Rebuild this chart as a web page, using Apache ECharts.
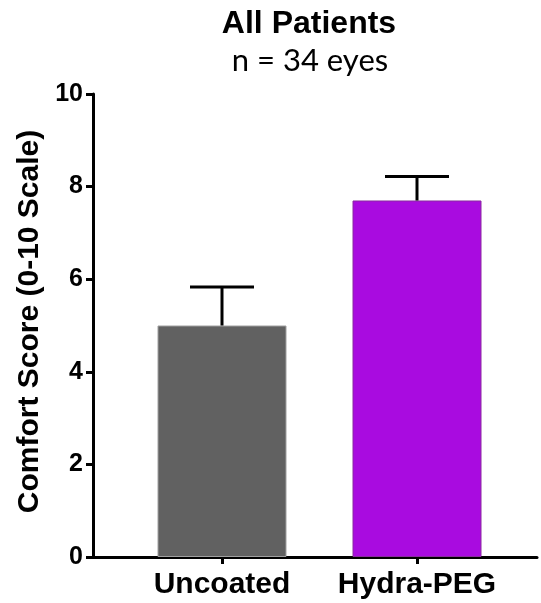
<!DOCTYPE html>
<html>
<head>
<meta charset="utf-8">
<script src="https://cdn.jsdelivr.net/npm/echarts@6/dist/echarts.min.js"></script>
<style>html,body{margin:0;padding:0;background:#fff}#c{width:541px;height:603px}</style>
</head>
<body>
<div id="c"></div>
<script>
var categories = ['Uncoated', 'Hydra-PEG'];
var meanValues = [5.0, 7.7];
var errorUpper = [5.83, 8.22];
var barColors = ['#616161', '#a90be0'];
var barBorders = ['#a0a0a0', '#8a2aa0'];
var yTicks = [0, 2, 4, 6, 8, 10];

var chart = echarts.init(document.getElementById('c'), null, {renderer: 'canvas'});
var sans = '"Liberation Sans", Arial, sans-serif';

var barData = categories.map(function (c, i) {
  return {value: [i, meanValues[i]], itemStyle: {color: barColors[i], borderColor: barBorders[i], borderWidth: 1}};
});
var errData = categories.map(function (c, i) { return [i, meanValues[i], errorUpper[i]]; });

chart.setOption({
  animation: false,
  backgroundColor: '#fff',
  title: [
    {text: 'All Patients', left: 304, top: 3, textAlign: 'center',
     textStyle: {fontFamily: sans, fontWeight: 'bold', fontSize: 32, color: '#000'}},
    {text: 'n = 34 eyes', left: 305, top: 40, textAlign: 'center',
     textStyle: {fontFamily: 'Lato, "Open Sans", sans-serif', fontWeight: 'normal', fontSize: 31, color: '#000'}}
  ],
  grid: {left: 93, right: 4, top: 94, bottom: 46, containLabel: false},
  xAxis: {
    type: 'value',
    min: (93 - 222) / 195,
    max: (537 - 222) / 195,
    splitLine: {show: false},
    axisLine: {show: true, onZero: false, lineStyle: {color: '#000', width: 3}},
    axisTick: {show: true, length: 7, lineStyle: {color: '#000', width: 3}, customValues: [0, 1]},
    axisLabel: {show: true, customValues: [0, 1], margin: 13,
      fontFamily: sans, fontWeight: 'bold', fontSize: 30, color: '#000',
      formatter: function (v) { return categories[Math.round(v)]; }}
  },
  yAxis: {
    type: 'value', min: yTicks[0], max: yTicks[yTicks.length - 1], interval: 2,
    name: 'Comfort Score (0-10 Scale)', nameLocation: 'middle', nameRotate: 90, nameGap: 47,
    nameTextStyle: {fontFamily: sans, fontWeight: 'bold', fontSize: 30, color: '#000', padding: [0, 0, 0, 8]},
    splitLine: {show: false},
    axisLine: {show: true, onZero: false, lineStyle: {color: '#000', width: 3}},
    axisTick: {show: true, length: 7, lineStyle: {color: '#000', width: 3}},
    axisLabel: {margin: 10, fontFamily: sans, fontWeight: 'bold', fontSize: 25, color: '#000'}
  },
  series: [
    {type: 'bar', data: barData, barWidth: 129, z: 2},
    {type: 'custom', z: 3, data: errData,
     renderItem: function (params, api) {
       var x = api.value(0);
       var pMean = api.coord([x, api.value(1)]);
       var pTop = api.coord([x, api.value(2)]);
       var half = 32;
       var st = {stroke: '#000', lineWidth: 3};
       return {type: 'group', children: [
         {type: 'line', shape: {x1: pMean[0], y1: pMean[1], x2: pTop[0], y2: pTop[1]}, style: st},
         {type: 'line', shape: {x1: pTop[0] - half, y1: pTop[1], x2: pTop[0] + half, y2: pTop[1]}, style: st}
       ]};
     }}
  ]
});
</script>
</body>
</html>
